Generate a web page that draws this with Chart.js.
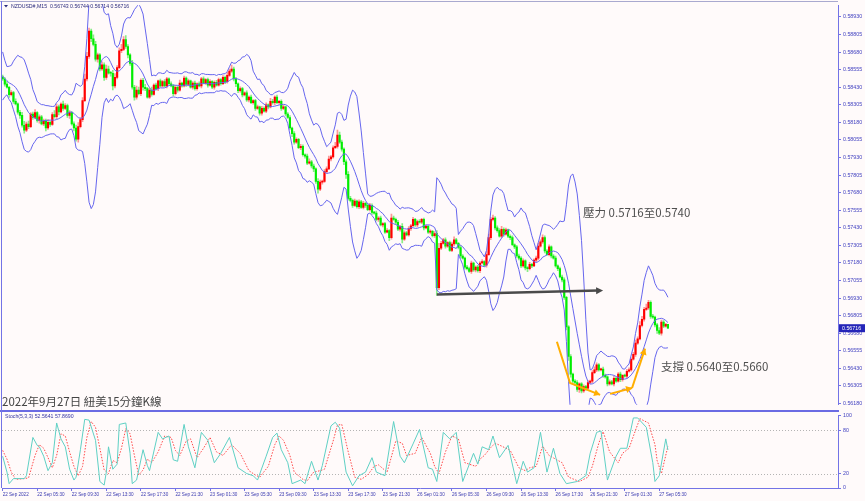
<!DOCTYPE html>
<html><head><meta charset="utf-8">
<script src="https://cdn.jsdelivr.net/npm/chart.js@4.4.1/dist/chart.umd.min.js"></script>
<style>
html,body{margin:0;padding:0;background:#fffafa;}
#wrap{position:relative;width:865px;height:501px;overflow:hidden;background:#fffafa;}
canvas{display:block;}
</style></head><body>
<div id="wrap">
<div style="position:absolute;left:0;top:0;width:865px;height:410px"><canvas id="c1" width="865" height="410"></canvas></div>
<div style="position:absolute;left:0;top:410px;width:865px;height:91px"><canvas id="c2" width="865" height="91"></canvas></div>
</div>
<script>
// ---------- DATA ----------
const symbolTitle = 'NZDUSD#,M15';
const lastQuote = [0.56743, 0.56744, 0.56714, 0.56716]; // O H L C of last bar
const historyCloses = [0.58629,0.58587,0.58531,0.58475,0.58433,0.58447,0.58489,0.58517,0.58503];
const closes = [
0.58489,0.58452,0.58430,0.58378,0.58392,0.58330,0.58312,0.58252,0.58230,0.58160,
0.58125,0.58168,0.58150,0.58240,0.58215,0.58250,0.58195,0.58220,0.58170,0.58190,
0.58140,0.58180,0.58165,0.58236,0.58220,0.58290,0.58255,0.58310,0.58280,0.58300,
0.58230,0.58250,0.58170,0.58140,0.58060,0.58150,0.58200,0.58335,0.58489,0.58650,
0.58830,0.58775,0.58735,0.58630,0.58660,0.58560,0.58590,0.58500,0.58560,0.58530,
0.58530,0.58440,0.58500,0.58570,0.58690,0.58700,0.58770,0.58720,0.58660,0.58600,
0.58430,0.58360,0.58410,0.58385,0.58480,0.58430,0.58420,0.58360,0.58410,0.58380,
0.58445,0.58420,0.58475,0.58440,0.58470,0.58440,0.58490,0.58455,0.58440,0.58385,
0.58430,0.58410,0.58460,0.58440,0.58495,0.58450,0.58475,0.58430,0.58460,0.58420,
0.58455,0.58440,0.58490,0.58460,0.58485,0.58445,0.58470,0.58430,0.58465,0.58445,
0.58485,0.58455,0.58500,0.58470,0.58515,0.58545,0.58560,0.58490,0.58455,0.58405,
0.58420,0.58375,0.58390,0.58340,0.58360,0.58320,0.58335,0.58280,0.58290,0.58245,
0.58280,0.58260,0.58305,0.58290,0.58330,0.58320,0.58360,0.58320,0.58330,0.58280,
0.58290,0.58240,0.58215,0.58140,0.58100,0.58040,0.58060,0.58000,0.58010,0.57950,
0.57940,0.57890,0.57900,0.57870,0.57850,0.57760,0.57705,0.57755,0.57760,0.57830,
0.57850,0.57920,0.57935,0.58000,0.58010,0.58090,0.58040,0.57990,0.57900,0.57810,
0.57640,0.57625,0.57590,0.57620,0.57580,0.57615,0.57575,0.57605,0.57590,0.57560,
0.57590,0.57540,0.57535,0.57490,0.57500,0.57450,0.57460,0.57400,0.57410,0.57360,
0.57500,0.57490,0.57470,0.57420,0.57440,0.57350,0.57395,0.57380,0.57425,0.57445,
0.57490,0.57450,0.57475,0.57470,0.57490,0.57430,0.57440,0.57400,0.57405,0.57375,
0.57390,0.57005,0.57285,0.57320,0.57345,0.57300,0.57325,0.57270,0.57315,0.57345,
0.57320,0.57290,0.57230,0.57215,0.57150,0.57140,0.57120,0.57180,0.57130,0.57150,
0.57125,0.57180,0.57190,0.57165,0.57240,0.57360,0.57490,0.57500,0.57430,0.57410,
0.57370,0.57420,0.57385,0.57415,0.57370,0.57360,0.57310,0.57295,0.57230,0.57215,
0.57160,0.57195,0.57145,0.57140,0.57170,0.57160,0.57200,0.57215,0.57300,0.57330,
0.57360,0.57265,0.57240,0.57295,0.57230,0.57215,0.57160,0.57140,0.57080,0.57060,
0.56935,0.56725,0.56515,0.56389,0.56340,0.56330,0.56280,0.56320,0.56270,0.56300,
0.56290,0.56330,0.56340,0.56400,0.56420,0.56455,0.56420,0.56425,0.56380,0.56370,
0.56320,0.56335,0.56320,0.56360,0.56340,0.56390,0.56350,0.56380,0.56375,0.56410,
0.56420,0.56495,0.56530,0.56610,0.56640,0.56735,0.56780,0.56850,0.56860,0.56900,
0.56800,0.56795,0.56740,0.56700,0.56680,0.56760,0.56730,0.56743,0.56716];
// wick lengths in points (0.00001)
const upperWickPts = [
14,10,21,7,14,10,18,7,14,21, 28,14,21,10,14,21,7,14,10,14, 14,21,10,14,28,21,14,10,21,14,
10,14,7,14,21,28,14,21,35,28, 21,14,28,21,14,10,21,14,28,21, 14,21,28,14,21,35,21,28,14,10,
21,14,28,21,10,14,21,10,14,21, 10,14,7,14,10,14,10,7,14,10, 14,10,21,7,14,10,14,7,10,14,
7,14,10,14,7,10,14,7,10,14, 10,7,14,10,21,14,28,14,10,7, 14,10,7,14,10,14,7,10,14,7,
14,10,14,7,21,14,10,14,7,10, 14,7,10,14,7,14,10,7,14,10, 7,14,21,10,14,7,21,14,10,14,
14,21,10,14,28,35,21,14,10,14, 21,14,10,14,7,14,10,14,7,10, 14,10,7,14,10,14,7,10,14,7,
28,14,10,14,7,21,14,10,14,10, 14,7,10,14,7,10,14,7,10,7, 14,21,35,14,10,14,7,10,14,21,
10,7,14,10,7,14,10,14,7,10, 14,10,14,7,21,28,14,21,10,14, 14,21,10,14,7,10,14,7,10,14,
10,14,7,10,14,7,10,14,21,14, 21,14,10,14,7,10,14,7,10,14, 14,7,10,14,7,10,14,7,10,14,
10,14,7,14,21,14,10,7,14,10, 7,14,10,14,7,10,14,7,10,14, 14,10,14,21,14,28,21,14,28,14,
10,14,7,10,21,14,10,7,1];
const lowerWickPts = [
10,14,7,21,10,14,7,14,21,14, 21,10,14,7,14,10,14,21,7,14, 21,10,14,7,10,14,21,7,14,10,
14,21,10,21,14,21,10,14,7,14, 14,21,10,14,21,14,10,21,14,7, 21,28,14,10,7,14,10,14,21,14,
14,21,14,10,14,21,14,7,10,14, 7,10,14,7,10,7,14,10,7,14, 10,14,7,10,7,14,10,7,14,10,
10,7,14,7,10,14,7,10,14,7, 7,10,7,14,10,7,10,14,21,14, 10,14,7,10,14,7,10,14,7,14,
14,7,10,14,7,10,14,7,10,14, 10,14,7,10,21,14,10,7,14,10, 14,10,7,14,21,14,28,10,14,7,
10,7,14,10,7,14,10,14,21,28, 14,10,14,7,10,14,7,10,14,7, 10,14,7,10,14,7,14,10,7,21,
10,7,14,10,14,28,10,7,10,14, 7,10,14,7,10,14,7,10,14,10, 14,56,14,10,7,14,10,7,10,14,
7,10,14,7,14,10,7,14,10,14, 10,14,7,10,14,7,14,10,14,10, 7,10,14,7,10,14,7,14,10,14,
14,10,14,21,10,14,7,10,14,7, 10,14,7,10,14,7,10,14,7,14, 14,21,28,21,14,21,14,21,14,10,
14,7,10,14,7,14,10,7,14,10, 14,10,7,14,10,7,14,10,7,14, 7,10,7,14,10,7,10,14,7,10,
14,10,14,21,10,14,10,7,2];
const bbPeriod = 10, bbDev = 3;
const priceTicks = [0.58930,0.58805,0.58680,0.58555,0.58430,0.58305,0.58180,0.58055,0.57930,0.57805,0.57680,0.57555,0.57430,0.57305,0.57180,0.57055,0.56930,0.56805,0.56680,0.56555,0.56430,0.56305,0.56180];
const timeLabelBars = [0,16,32,48,64,80,96,112,128,144,160,176,192,208,224,240,256,272,288,304];
const timeLabels = ['22 Sep 2022','22 Sep 05:30','22 Sep 09:30','22 Sep 13:30','22 Sep 17:30','22 Sep 21:30','23 Sep 01:30','23 Sep 05:30','23 Sep 09:30','23 Sep 13:30','23 Sep 17:30','23 Sep 21:30','26 Sep 01:30','26 Sep 05:30','26 Sep 09:30','26 Sep 13:30','26 Sep 17:30','26 Sep 21:30','27 Sep 01:30','27 Sep 05:30'];
const stochKBars = [0,2,3,5,10,11,14,16,17,19,21,23,25,27,29,31,33,34,36,38,40,43,45,47,48,49,51,53,54,57,59,60,62,65,67,68,72,74,77,79,81,84,86,89,92,95,98,101,105,109,113,116,118,122,125,127,129,132,134,138,140,143,146,148,152,154,156,159,162,165,168,171,173,177,181,184,186,190,193,197,199,201,204,207,210,213,218,220,222,225,227,230,234,238,241,243,246,249,252,255,258,261,266,270,272,275,277,280,284,286,289,292,294,298,301,302,304,307,308];
const stochK = [44,22,6,13,13,17,70,59,57,44,24,35,90,68,57,26,11,15,53,95,94,66,9,4,22,57,26,33,88,90,48,6,11,53,31,24,77,68,72,39,37,88,57,28,77,66,35,48,70,28,20,17,11,44,70,76,53,35,6,11,6,37,11,31,86,91,83,22,3,17,22,42,22,17,92,44,35,61,81,28,26,9,77,68,77,9,48,33,57,53,72,42,59,6,37,22,28,77,22,55,20,6,9,17,48,77,79,11,44,55,55,97,97,84,35,9,17,68,52.5641];
const stochDBars = [0,2,4,6,10,12,15,17,19,21,23,25,27,29,31,33,35,37,39,41,43,45,47,49,51,53,55,57,59,61,63,65,67,69,72,75,78,80,82,85,87,90,93,96,99,102,106,110,114,117,119,123,126,128,130,133,135,139,141,144,147,149,153,155,157,160,163,166,169,172,174,178,182,185,187,191,194,198,200,202,205,208,211,214,219,221,223,226,228,231,235,239,242,244,247,250,253,256,259,262,267,271,273,276,278,281,285,287,290,293,295,299,302,303,305,308];
const stochD = [52,40,22,12,13,14,45,60,55,42,28,45,75,72,50,30,17,30,70,92,84,55,25,20,38,35,55,82,75,45,18,25,40,35,50,72,70,52,45,65,68,42,55,70,50,45,60,48,24,18,15,30,60,72,66,45,22,12,10,22,24,26,65,87,88,50,15,12,18,30,32,22,65,62,45,48,70,48,30,20,50,72,68,35,30,40,45,56,62,58,52,28,24,28,30,58,45,40,35,15,9,15,30,62,78,50,35,48,55,80,96,90,60,38,20,57.869];
const stochTicks = [0,20,80,100];
const stochLevels = [20,80];
const stochTitle = 'Stoch(5,3,3) 52.5641 57.8690';
// annotations anchored to (bar, price)
const resistNote = {text:'壓力 0.5716至0.5740', bar:268.7, price:0.57537};
const supportNote = {text:'支撐 0.5640至0.5660', bar:304.8, price:0.56445};
const captionText = '2022年9月27日 紐美15分鐘K線';
const blackArrow = [{bar:201,price:0.56956},{bar:278,price:0.56984}];
const orangeArrows = [
  [{bar:256.6,price:0.56620},{bar:262.7,price:0.56326},{bar:276.6,price:0.56242}],
  [{bar:281.2,price:0.56249},{bar:291.4,price:0.56291}],
  [{bar:291.4,price:0.56291},{bar:297.4,price:0.56571}]
];

// ---------- DERIVED ----------
const X_MIN = -0.3, X_MAX = 386.74;
const bars = closes.map((c,i)=>i);
const opens = closes.map((c,i)=> i===0 ? historyCloses[historyCloses.length-1] : closes[i-1]);
const highs = closes.map((c,i)=> Math.max(opens[i],c) + upperWickPts[i]/1e5);
const lows  = closes.map((c,i)=> Math.min(opens[i],c) - lowerWickPts[i]/1e5);
const allC = historyCloses.concat(closes);
const bbU=[],bbM=[],bbL=[];
for (let i=0;i<closes.length;i++){
  const end = i+historyCloses.length+1;
  const w = allC.slice(Math.max(0,end-bbPeriod), end);
  const m = w.reduce((a,b)=>a+b,0)/w.length;
  const sd = Math.sqrt(w.reduce((a,b)=>a+(b-m)*(b-m),0)/w.length);
  bbU.push({x:i,y:m+bbDev*sd}); bbM.push({x:i,y:m}); bbL.push({x:i,y:m-bbDev*sd});
}
const isUp = bars.map(i=>closes[i]>opens[i]);
const bodyCol = isUp.map(u=>u?'#ff0000':'#00ee00');
const wickCol = isUp.map(u=>u?'rgba(255,70,70,0.55)':'rgba(40,225,40,0.55)');

const SMALL = 'Liberation Sans, Arial, sans-serif';
const CJK = '"Noto Sans CJK TC","Noto Sans CJK SC",sans-serif';
const AXIS_COL = '#7373e6';
const LABEL_COL = '#4141c0';
const BB_COL = '#6666ee';

function arrowHead(ctx,x0,y0,x1,y1,len,half,color){
  const a = Math.atan2(y1-y0,x1-x0);
  ctx.save(); ctx.fillStyle=color; ctx.beginPath();
  ctx.moveTo(x1,y1);
  ctx.lineTo(x1-len*Math.cos(a)+half*Math.sin(a), y1-len*Math.sin(a)-half*Math.cos(a));
  ctx.lineTo(x1-len*Math.cos(a)-half*Math.sin(a), y1-len*Math.sin(a)+half*Math.cos(a));
  ctx.closePath(); ctx.fill(); ctx.restore();
}

const mainDecor = {
  id:'mainDecor',
  beforeDraw(chart){
    const ctx=chart.ctx; ctx.save(); ctx.fillStyle='#fffafa'; ctx.fillRect(0,0,chart.width,chart.height); ctx.restore();
  },
  afterDraw(chart){
    const ctx=chart.ctx, xs=chart.scales.x, ys=chart.scales.y, ca=chart.chartArea;
    const P=(b,p)=>[xs.getPixelForValue(b), ys.getPixelForValue(p)];
    ctx.save();
    ctx.strokeStyle='#a9a9cf'; ctx.lineWidth=1;
    ctx.beginPath(); ctx.moveTo(0,1.5); ctx.lineTo(ca.right,1.5); ctx.stroke();
    ctx.strokeStyle=AXIS_COL;
    ctx.beginPath(); ctx.moveTo(1.5,1); ctx.lineTo(1.5,chart.height); ctx.stroke();
    let a=P(blackArrow[0].bar,blackArrow[0].price), b=P(blackArrow[1].bar,blackArrow[1].price);
    ctx.strokeStyle='#4a4a4a'; ctx.lineWidth=2.4; ctx.lineCap='butt';
    ctx.beginPath(); ctx.moveTo(a[0],a[1]); ctx.lineTo(b[0]-5,b[1]); ctx.stroke();
    arrowHead(ctx,a[0],a[1],b[0],b[1],7,3.5,'#4a4a4a');
    ctx.strokeStyle='#ffae00'; ctx.lineWidth=2;
    orangeArrows.forEach(path=>{
      const pts=path.map(q=>P(q.bar,q.price));
      ctx.beginPath(); ctx.moveTo(pts[0][0],pts[0][1]);
      for(let k=1;k<pts.length;k++) ctx.lineTo(pts[k][0],pts[k][1]);
      ctx.stroke();
      const n=pts.length; arrowHead(ctx,pts[n-2][0],pts[n-2][1],pts[n-1][0],pts[n-1][1],6,3.5,'#ffae00');
    });
    ctx.fillStyle='#4f4f4f'; ctx.font='11.5px '+CJK; ctx.textBaseline='middle'; ctx.textAlign='left';
    [resistNote,supportNote].forEach(n=>{const q=P(n.bar,n.price); ctx.fillText(n.text,q[0],q[1]);});
    ctx.fillStyle='#444'; ctx.fillText(captionText,2,402);
    ctx.fillStyle='#2b2b7d';
    ctx.beginPath(); ctx.moveTo(4,5); ctx.lineTo(8,5); ctx.lineTo(6,7.5); ctx.closePath(); ctx.fill();
    ctx.font='5.2px '+SMALL; ctx.fillText(symbolTitle+'  '+lastQuote.map(v=>v.toFixed(5)).join(' '),11,6.5);
    const yp=ys.getPixelForValue(lastQuote[3]);
    ctx.fillStyle='#2424b8'; ctx.fillRect(ca.right+1,yp-4,chart.width-ca.right-1,8);
    ctx.fillStyle='#ffffff'; ctx.font='5.3px '+SMALL; ctx.fillText(lastQuote[3].toFixed(5),ca.right+4,yp+0.5);
    ctx.restore();
  }
};

new Chart(document.getElementById('c1'),{
  type:'bar',
  data:{datasets:[
    {type:'line',data:bbU,borderColor:BB_COL,borderWidth:1,pointRadius:0,tension:0},
    {type:'line',data:bbM,borderColor:BB_COL,borderWidth:1,pointRadius:0,tension:0},
    {type:'line',data:bbL,borderColor:BB_COL,borderWidth:1,pointRadius:0,tension:0},
    {type:'bar',data:bars.map(i=>({x:i,y:[opens[i],closes[i]]})),backgroundColor:bodyCol,barThickness:1.5,minBarLength:1,grouped:false},
    {type:'bar',data:bars.map(i=>({x:i,y:[lows[i],highs[i]]})),backgroundColor:wickCol,barThickness:1,grouped:false}
  ]},
  options:{
    responsive:false,animation:false,events:[],
    layout:{padding:{left:2,top:3,right:0,bottom:1}},
    plugins:{legend:{display:false},tooltip:{enabled:false}},
    scales:{
      x:{type:'linear',display:false,min:X_MIN,max:X_MAX,offset:false},
      y:{position:'right',min:0.56171,max:0.59014,
         afterFit(s){s.width=27;},
         afterBuildTicks(s){s.ticks=priceTicks.map(v=>({value:v}));},
         ticks:{font:{family:SMALL,size:5.3},color:LABEL_COL,padding:2,callback:v=>Number(v).toFixed(5)},
         grid:{drawOnChartArea:false,drawTicks:true,tickLength:3,color:AXIS_COL},
         border:{display:true,color:AXIS_COL,width:1}}
    }
  },
  plugins:[mainDecor]
});

const stochDecor = {
  id:'stochDecor',
  beforeDraw(chart){
    const ctx=chart.ctx; ctx.save(); ctx.fillStyle='#fffafa'; ctx.fillRect(0,0,chart.width,chart.height); ctx.restore();
  },
  beforeDatasetsDraw(chart){
    const ctx=chart.ctx, ys=chart.scales.y, ca=chart.chartArea;
    ctx.save(); ctx.strokeStyle='#b4b4b4'; ctx.lineWidth=1; ctx.setLineDash([1,2]);
    stochLevels.forEach(l=>{const y=Math.round(ys.getPixelForValue(l))+0.5; ctx.beginPath(); ctx.moveTo(ca.left,y); ctx.lineTo(ca.right,y); ctx.stroke();});
    ctx.restore();
  },
  afterDraw(chart){
    const ctx=chart.ctx, ca=chart.chartArea;
    ctx.save();
    ctx.fillStyle='#6b6be3'; ctx.fillRect(0,0,ca.right+1,2);
    ctx.strokeStyle=AXIS_COL; ctx.lineWidth=1;
    ctx.beginPath(); ctx.moveTo(1.5,0); ctx.lineTo(1.5,ca.bottom); ctx.stroke();
    ctx.fillStyle='#3434a4'; ctx.font='5.2px '+SMALL; ctx.textBaseline='middle';
    ctx.fillText(stochTitle,5,6.5);
    ctx.restore();
  }
};

new Chart(document.getElementById('c2'),{
  type:'line',
  data:{datasets:[
    {data:stochKBars.map((b,i)=>({x:b,y:stochK[i]})),borderColor:'#5fd0c4',borderWidth:1,pointRadius:0,tension:0},
    {data:stochDBars.map((b,i)=>({x:b,y:stochD[i]})),borderColor:'#ff4a4a',borderWidth:1,borderDash:[1.5,1.5],pointRadius:0,tension:0}
  ]},
  options:{
    responsive:false,animation:false,events:[],
    layout:{padding:{left:2,top:2,right:0,bottom:0}},
    plugins:{legend:{display:false},tooltip:{enabled:false}},
    scales:{
      x:{type:'linear',min:X_MIN,max:X_MAX,offset:false,position:'bottom',
         afterFit(s){s.height=13;},
         afterBuildTicks(s){s.ticks=timeLabelBars.map(v=>({value:v}));},
         ticks:{autoSkip:false,maxRotation:0,minRotation:0,align:'start',padding:1,font:{family:SMALL,size:4.6},color:'#3a3ab0',
                callback:(v)=>timeLabels[timeLabelBars.indexOf(v)]},
         grid:{drawOnChartArea:false,drawTicks:true,tickLength:3,color:AXIS_COL},
         border:{display:true,color:AXIS_COL,width:1}},
      y:{position:'right',min:0,max:100.8,
         afterFit(s){s.width=27;},
         afterBuildTicks(s){s.ticks=stochTicks.map(v=>({value:v}));},
         ticks:{font:{family:SMALL,size:5.3},color:LABEL_COL,padding:2,callback:v=>String(v)},
         grid:{drawOnChartArea:false,drawTicks:true,tickLength:3,color:AXIS_COL},
         border:{display:true,color:AXIS_COL,width:1}}
    }
  },
  plugins:[stochDecor]
});
</script>
</body></html>
